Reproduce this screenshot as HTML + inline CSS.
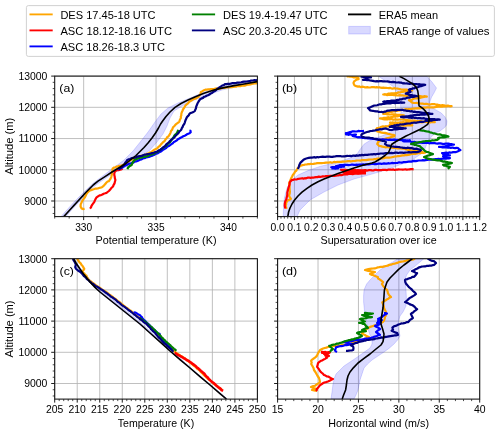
<!DOCTYPE html>
<html><head><meta charset="utf-8"><title>Profiles</title>
<style>html,body{margin:0;padding:0;background:#fff;}body{width:500px;height:434px;overflow:hidden;font-family:"Liberation Sans",sans-serif;}svg{display:block;will-change:transform;}</style>
</head><body>
<svg width="500" height="434" viewBox="0 0 500 434">
<rect width="500" height="434" fill="#fff"/>
<rect x="26.4" y="5.6" width="468" height="50.8" rx="2" ry="2" fill="#fff" stroke="#cccccc" stroke-width="0.9"/>
<path d="M29.5 14.4h23.2" stroke="#FFA500" stroke-width="1.85" fill="none"/>
<path d="M29.5 30.4h23.2" stroke="#FF0000" stroke-width="1.85" fill="none"/>
<path d="M29.5 46.4h23.2" stroke="#0000FF" stroke-width="1.85" fill="none"/>
<path d="M191.9 14.4h23.2" stroke="#008000" stroke-width="1.85" fill="none"/>
<path d="M191.9 30.4h23.2" stroke="#000080" stroke-width="1.85" fill="none"/>
<path d="M348.0 14.4h23.2" stroke="#000000" stroke-width="1.85" fill="none"/>
<rect x="348.7" y="26.4" width="21.6" height="7.6" fill="#0000ff" fill-opacity="0.15" stroke="#0000ff" stroke-opacity="0.15" stroke-width="1"/>
<text x="60.4" y="18.5" font-size="10.70" text-anchor="start" font-family="Liberation Sans, sans-serif" fill="#000" textLength="95.2" lengthAdjust="spacingAndGlyphs" >DES 17.45-18 UTC</text>
<text x="60.4" y="34.5" font-size="10.70" text-anchor="start" font-family="Liberation Sans, sans-serif" fill="#000" textLength="111.6" lengthAdjust="spacingAndGlyphs" >ASC 18.12-18.16 UTC</text>
<text x="60.4" y="50.5" font-size="10.70" text-anchor="start" font-family="Liberation Sans, sans-serif" fill="#000" textLength="104.6" lengthAdjust="spacingAndGlyphs" >ASC 18.26-18.3 UTC</text>
<text x="223.0" y="18.5" font-size="10.70" text-anchor="start" font-family="Liberation Sans, sans-serif" fill="#000" textLength="104.6" lengthAdjust="spacingAndGlyphs" >DES 19.4-19.47 UTC</text>
<text x="223.0" y="34.5" font-size="10.70" text-anchor="start" font-family="Liberation Sans, sans-serif" fill="#000" textLength="104.6" lengthAdjust="spacingAndGlyphs" >ASC 20.3-20.45 UTC</text>
<text x="378.8" y="18.5" font-size="10.70" text-anchor="start" font-family="Liberation Sans, sans-serif" fill="#000" textLength="59.2" lengthAdjust="spacingAndGlyphs" >ERA5 mean</text>
<text x="378.8" y="34.5" font-size="10.70" text-anchor="start" font-family="Liberation Sans, sans-serif" fill="#000" textLength="110.6" lengthAdjust="spacingAndGlyphs" >ERA5 range of values</text>
<clipPath id="ca"><rect x="54.70" y="76.10" width="202.70" height="140.50"/></clipPath>
<clipPath id="cb"><rect x="277.60" y="76.10" width="202.10" height="140.50"/></clipPath>
<clipPath id="cc"><rect x="54.70" y="258.70" width="202.70" height="140.40"/></clipPath>
<clipPath id="cd"><rect x="277.60" y="258.70" width="202.10" height="140.40"/></clipPath>
<path d="M83.66 76.10V216.60M156.05 76.10V216.60M228.44 76.10V216.60M54.70 200.99H257.40M54.70 169.77H257.40M54.70 138.54H257.40M54.70 107.32H257.40M54.70 76.10H257.40" stroke="#b0b0b0" stroke-width="0.8" fill="none"/>
<g clip-path="url(#ca)">
<polygon points="61.0,216.6 70.0,206.5 78.0,198.0 86.0,190.0 93.0,183.4 98.0,179.5 112.0,169.0 124.0,160.0 133.0,151.0 141.0,141.0 148.0,132.0 155.0,122.0 161.0,114.0 168.0,108.0 178.0,103.0 190.0,98.0 204.0,92.0 220.0,87.0 240.0,82.5 257.4,79.5 257.4,83.5 240.0,86.0 222.0,90.0 206.0,95.5 192.0,101.0 182.0,106.0 174.0,111.0 170.0,118.0 167.0,126.0 163.0,134.0 157.0,142.0 150.0,150.0 142.0,156.0 134.0,162.0 124.0,168.0 112.0,174.0 100.0,182.0 94.0,186.6 87.0,193.4 79.0,202.0 71.0,210.6 66.0,216.6" fill="#0000ff" fill-opacity="0.15" stroke="#0000ff" stroke-opacity="0.15" stroke-width="1"/>
<polyline points="84.6,208.7 83.0,209.1 81.6,208.4 80.6,206.6 80.7,204.4 81.6,202.4 82.5,200.5 83.5,199.1 84.9,197.3 85.9,195.2 86.7,193.6 87.9,192.1 89.2,190.9 91.0,190.1 92.3,189.6 93.6,189.2 95.0,188.7 96.4,188.6 97.7,188.5 99.0,188.0 100.5,187.7 102.0,187.2 103.3,186.1 104.6,184.8 105.5,183.7 106.5,182.5 107.6,181.5 109.1,181.1 109.8,179.7 110.7,178.5 111.3,176.8 111.7,175.0 112.0,173.7 111.9,172.3 112.3,171.0 112.6,168.6 114.1,167.5 115.4,167.3 116.6,166.5 118.0,166.3 119.3,165.8 120.7,165.9 122.0,165.2 123.4,164.7 124.6,163.9 126.0,163.4 127.3,162.4 128.6,161.4 130.0,160.5 131.4,159.8 132.8,159.3 134.0,158.4 135.4,158.2 136.7,157.7 138.0,157.1 139.5,156.6 140.9,155.8 142.6,155.7 144.0,155.1 145.6,154.6 147.0,153.8 148.5,153.3 150.0,152.5 151.4,152.0 152.5,151.1 153.7,150.2 154.9,149.4 156.3,148.8 157.5,148.1 158.4,146.9 159.8,146.0 160.8,144.6 161.9,143.4 162.8,142.4 163.9,141.6 164.9,140.6 165.5,139.4 166.5,138.5 167.1,137.3 168.2,136.6 169.0,135.5 169.9,134.1 170.6,132.6 171.0,131.0 172.1,129.8 172.6,128.3 173.4,126.9 174.5,126.0 175.3,124.8 176.4,123.9 177.5,123.1 178.5,122.4 179.4,121.4 179.9,119.7 180.9,118.0 180.8,116.7 181.3,115.4 181.3,114.0 181.7,112.5 182.4,111.0 183.0,109.5 183.9,108.2 184.7,106.9 185.5,105.5 186.7,104.4 188.0,103.4 189.0,102.0 190.3,101.1 191.7,100.4 193.0,99.4 194.3,98.8 195.9,98.5 197.1,97.6 198.5,97.0 199.1,95.6 200.2,94.5 200.6,93.3 200.9,92.0 202.5,91.2 204.0,90.2 205.3,89.7 206.7,89.7 208.0,89.4 209.5,89.4 211.0,89.1 212.5,89.2 214.0,89.1 215.5,88.6 217.0,88.4 218.5,88.7 220.0,88.5 221.5,88.1 223.0,88.0 224.5,87.9 226.0,87.5 227.4,87.4 228.8,87.2 230.3,87.1 231.7,87.1 233.1,86.8 234.6,86.7 236.0,86.7 237.4,86.1 238.9,86.2 240.3,86.1 241.7,85.7 243.1,85.4 244.6,85.6 246.0,85.1 247.4,84.7 248.8,84.6 250.3,84.5 251.7,83.9 253.1,83.7 254.5,83.5 256.0,83.5 257.4,83.0" fill="none" stroke="#FFA500" stroke-width="2.20" stroke-linejoin="round" stroke-linecap="butt"/>
<polyline points="90.0,208.6 91.0,207.4 91.5,205.9 92.3,204.6 93.2,203.4 94.2,202.1 94.8,200.6 95.5,199.1 96.3,197.7 98.0,196.4 99.6,195.3 101.1,195.1 102.4,194.5 103.7,193.7 105.2,193.3 106.5,192.9 107.6,192.0 108.9,191.0 110.0,189.8 111.1,188.3 112.5,187.0 113.3,185.9 113.7,184.6 114.5,183.5 114.9,181.7 115.4,180.0 114.9,178.3 114.7,176.5 114.3,175.0 114.3,173.5 115.1,171.2 117.1,170.1 118.5,170.1 120.0,169.6 121.4,169.4 122.5,168.7" fill="none" stroke="#FF0000" stroke-width="2.20" stroke-linejoin="round" stroke-linecap="butt"/>
<polyline points="118.0,169.6 119.2,168.8 120.5,168.3 121.8,167.8 122.9,167.1 124.0,166.4 125.3,165.6 126.6,165.0 128.0,164.3 129.2,163.7 130.7,163.5 132.0,162.9 133.4,162.6 134.6,161.7 136.0,161.5 137.4,160.9 138.8,160.4 140.0,159.7 141.3,159.4 142.5,158.8 143.7,158.1 145.0,158.1 146.2,157.4 147.5,157.1 148.8,156.9 150.0,156.4 151.2,155.9 152.6,155.6 153.8,155.0 155.0,154.4 156.4,153.6 158.0,153.1 159.3,152.2 160.8,151.5 162.0,150.6 163.2,149.6 164.7,148.9 166.1,148.1 167.2,146.8 168.8,146.1 170.1,145.1 171.4,144.1 172.8,143.2 173.9,141.9 175.4,141.2 176.8,140.4 177.9,139.3 179.3,138.5 180.6,137.7 182.0,137.0 183.3,136.3 184.7,135.7 186.0,135.1 187.1,134.2 188.3,133.7 189.6,133.3 190.7,132.3 190.5,130.8 189.4,130.5" fill="none" stroke="#0000FF" stroke-width="2.20" stroke-linejoin="round" stroke-linecap="butt"/>
<polyline points="127.6,169.2 127.9,167.6 129.4,166.3 131.6,165.0 132.2,163.5 132.9,162.0 134.6,160.0 136.3,159.3 138.0,158.4 139.3,158.0 140.6,157.6 142.0,157.4 143.6,156.8 145.3,156.6 147.0,156.3 148.2,155.7 149.4,155.1 150.7,154.7 152.0,154.5 153.2,154.0 154.5,153.5 155.6,152.6 156.9,152.3 158.0,151.5 159.2,150.6 160.5,149.7 161.7,148.9 163.0,148.0 164.3,147.0 165.7,146.1 167.0,145.0 167.9,143.9 169.0,143.0 170.1,142.1 170.9,140.9 171.7,139.7 172.5,138.5 173.4,137.4 174.1,136.1 174.9,134.8 176.2,133.8 177.1,132.6 177.7,131.2 178.6,130.0" fill="none" stroke="#008000" stroke-width="2.20" stroke-linejoin="round" stroke-linecap="butt"/>
<polyline points="119.0,169.4 120.9,167.7 122.1,166.8 123.0,165.6 124.0,164.7 124.8,163.6 125.5,162.4 126.4,161.4 127.0,160.2 128.4,159.4 130.0,159.0 131.6,158.2 133.3,157.9 135.0,157.7 136.6,156.9 138.3,156.4 140.0,156.1 141.6,156.0 143.0,155.2 144.4,154.7 146.0,154.7 147.4,154.0 149.1,154.0 150.5,153.5 152.0,153.1 153.7,152.8 155.3,152.1 157.0,151.7 158.4,150.6 160.0,150.1 161.0,149.2 162.1,148.4 162.9,147.4 164.1,146.8 165.2,146.0 165.9,144.9 166.9,143.9 168.0,143.0 169.1,142.1 169.9,141.0 170.9,140.2 172.0,139.4 173.0,138.5 174.1,137.6 175.0,136.5 175.9,135.4 177.0,134.5 178.0,133.5 178.8,132.5 179.5,131.3 180.5,130.5 181.4,129.5 181.8,128.1 182.6,127.0 183.2,125.4 184.2,124.0 184.9,122.3 185.4,120.5 186.2,118.8 187.0,117.0 187.9,116.1 188.8,115.2 189.4,113.9 190.6,113.0 192.0,112.6 193.5,112.0 194.8,111.0 195.3,109.7 195.9,108.5 196.2,106.7 196.9,105.0 197.6,103.2 198.6,101.5 199.5,100.2 200.4,99.0 201.7,98.4 203.0,97.9 204.0,96.9 205.4,96.5 206.6,95.8 208.0,95.3 209.4,94.5 210.6,93.6 212.0,92.9 213.3,91.8 215.0,91.0 216.0,90.1 216.9,89.2 218.0,88.5 219.4,87.4 221.0,86.5 222.2,85.5 223.8,85.2 225.0,84.2 226.4,84.1 227.8,83.8 229.2,83.8 230.6,83.6 232.0,83.2 233.3,83.1 234.7,83.1 236.0,83.0 237.3,82.6 238.7,82.7 240.0,82.5 241.3,82.2 242.6,81.8 244.0,81.6 245.4,81.7 246.7,81.5 248.0,81.3 249.4,81.2 250.7,80.7 252.0,80.5 253.4,80.4 254.7,80.2 256.1,80.3 257.4,80.1" fill="none" stroke="#000080" stroke-width="2.20" stroke-linejoin="round" stroke-linecap="butt"/>
<polyline points="63.8,216.6 70.0,209.8 74.0,205.4 78.0,201.0 82.0,196.6 86.0,192.2 89.6,188.6 93.2,185.0 98.0,181.2 105.0,176.6 112.0,172.0 119.0,167.8 126.0,163.5 131.0,159.5 136.0,155.5 140.0,151.5 144.0,147.5 148.0,143.0 152.0,138.0 155.5,133.0 158.5,128.0 160.6,124.0 163.0,120.5 166.0,116.5 170.0,112.0 175.0,107.4 181.0,103.5 188.0,100.0 196.0,96.4 204.0,93.2 214.0,90.0 224.0,87.6 234.0,85.6 244.0,84.0 257.4,81.6" fill="none" stroke="#000000" stroke-width="1.60" stroke-linejoin="round" stroke-linecap="butt"/>
</g>
<path d="M83.66 216.60v3.5M156.05 216.60v3.5M228.44 216.60v3.5M54.70 200.99h-3.5M54.70 169.77h-3.5M54.70 138.54h-3.5M54.70 107.32h-3.5M54.70 76.10h-3.5" stroke="#111" stroke-width="0.95" fill="none"/>
<path d="M54.70 216.60v2M69.18 216.60v2M98.14 216.60v2M112.61 216.60v2M127.09 216.60v2M141.57 216.60v2M170.53 216.60v2M185.01 216.60v2M199.49 216.60v2M213.96 216.60v2M242.92 216.60v2M257.40 216.60v2M54.70 213.48h-2M54.70 207.23h-2M54.70 194.74h-2M54.70 188.50h-2M54.70 182.26h-2M54.70 176.01h-2M54.70 163.52h-2M54.70 157.28h-2M54.70 151.03h-2M54.70 144.79h-2M54.70 132.30h-2M54.70 126.06h-2M54.70 119.81h-2M54.70 113.57h-2M54.70 101.08h-2M54.70 94.83h-2M54.70 88.59h-2M54.70 82.34h-2" stroke="#111" stroke-width="0.75" fill="none"/>
<rect x="54.70" y="76.10" width="202.70" height="140.50" fill="none" stroke="#111" stroke-width="1.05"/>
<text x="83.7" y="230.8" font-size="10.60" text-anchor="middle" font-family="Liberation Sans, sans-serif" fill="#000" textLength="17.0" lengthAdjust="spacingAndGlyphs" >330</text>
<text x="156.1" y="230.8" font-size="10.60" text-anchor="middle" font-family="Liberation Sans, sans-serif" fill="#000" textLength="17.0" lengthAdjust="spacingAndGlyphs" >335</text>
<text x="228.4" y="230.8" font-size="10.60" text-anchor="middle" font-family="Liberation Sans, sans-serif" fill="#000" textLength="17.0" lengthAdjust="spacingAndGlyphs" >340</text>
<text x="47.4" y="204.8" font-size="10.60" text-anchor="end" font-family="Liberation Sans, sans-serif" fill="#000" textLength="23.2" lengthAdjust="spacingAndGlyphs" >9000</text>
<text x="47.4" y="173.6" font-size="10.60" text-anchor="end" font-family="Liberation Sans, sans-serif" fill="#000" textLength="29.0" lengthAdjust="spacingAndGlyphs" >10000</text>
<text x="47.4" y="142.3" font-size="10.60" text-anchor="end" font-family="Liberation Sans, sans-serif" fill="#000" textLength="29.0" lengthAdjust="spacingAndGlyphs" >11000</text>
<text x="47.4" y="111.1" font-size="10.60" text-anchor="end" font-family="Liberation Sans, sans-serif" fill="#000" textLength="29.0" lengthAdjust="spacingAndGlyphs" >12000</text>
<text x="47.4" y="79.9" font-size="10.60" text-anchor="end" font-family="Liberation Sans, sans-serif" fill="#000" textLength="29.0" lengthAdjust="spacingAndGlyphs" >13000</text>
<text transform="translate(12.6,146.3) rotate(-90)" font-size="10.6" text-anchor="middle" font-family="Liberation Sans, sans-serif" textLength="57" lengthAdjust="spacingAndGlyphs">Altitude (m)</text>
<text x="156.0" y="244.0" font-size="10.60" text-anchor="middle" font-family="Liberation Sans, sans-serif" fill="#000" textLength="121.0" lengthAdjust="spacingAndGlyphs" >Potential temperature (K)</text>
<text x="66.8" y="92.2" font-size="11.50" text-anchor="middle" font-family="Liberation Sans, sans-serif" fill="#000" textLength="15.0" lengthAdjust="spacingAndGlyphs" >(a)</text>
<path d="M277.60 76.10V216.60M294.44 76.10V216.60M311.28 76.10V216.60M328.12 76.10V216.60M344.97 76.10V216.60M361.81 76.10V216.60M378.65 76.10V216.60M395.49 76.10V216.60M412.33 76.10V216.60M429.18 76.10V216.60M446.02 76.10V216.60M462.86 76.10V216.60M479.70 76.10V216.60M277.60 200.99H479.70M277.60 169.77H479.70M277.60 138.54H479.70M277.60 107.32H479.70M277.60 76.10H479.70" stroke="#b0b0b0" stroke-width="0.8" fill="none"/>
<g clip-path="url(#cb)">
<polygon points="283.2,216.6 283.6,206.0 284.4,198.0 287.0,188.0 291.0,181.0 298.0,175.0 308.0,170.6 320.0,166.4 334.0,163.0 346.0,159.4 353.0,156.6 357.0,154.0 360.0,149.5 364.0,144.2 369.5,140.7 376.0,138.0 382.2,135.8 388.0,133.0 392.0,131.0 397.0,127.0 400.0,121.0 401.0,112.0 400.5,104.0 399.0,96.0 395.0,88.0 387.0,82.0 378.4,76.2 426.8,76.2 432.0,82.0 436.5,88.0 434.0,93.0 431.6,97.0 429.8,102.0 430.0,106.6 436.0,110.0 441.3,113.0 445.0,117.0 447.0,121.0 446.5,125.0 444.5,127.6 440.0,131.0 436.5,132.5 432.0,136.0 428.0,141.0 426.0,146.0 424.4,150.0 421.0,154.0 412.0,160.0 402.0,164.0 386.0,170.0 370.0,174.6 354.0,179.0 338.0,185.0 324.0,192.0 310.0,200.0 300.0,210.0 297.0,216.6" fill="#0000ff" fill-opacity="0.15" stroke="#0000ff" stroke-opacity="0.15" stroke-width="1"/>
<polyline points="286.4,208.8 286.2,207.3 285.5,206.0 286.1,204.5 286.1,203.0 286.8,201.8 287.5,200.6 289.6,199.7 290.9,198.9 289.9,197.3 289.1,196.0 289.4,194.5 289.8,193.0 289.9,191.4 289.7,189.8 289.6,187.9 289.6,186.0 289.4,184.7 289.1,183.4 289.8,181.7 290.5,180.0 291.2,178.2 292.1,176.5 292.7,175.2 293.5,174.1 294.4,173.0 295.0,171.7 296.1,170.9 296.8,169.7 297.7,168.0 299.1,166.8 300.7,165.8 302.5,165.1 303.9,165.0 305.2,164.5 306.6,164.5 308.0,164.2 309.4,164.2 310.7,163.8 312.0,164.0 313.4,163.9 314.7,163.6 316.0,163.4 317.4,163.1 318.9,163.2 320.3,163.0 321.7,163.1 323.2,163.0 324.6,162.8 326.0,162.6 327.4,162.7 328.8,162.6 330.2,162.2 331.6,162.6 333.0,162.3 334.4,161.9 335.8,162.3 337.2,161.8 338.6,161.8 340.0,161.9 341.3,161.8 342.7,161.7 344.0,161.7 345.3,161.5 346.7,161.3 348.0,161.1 349.3,161.0 350.7,161.3 352.0,161.2 353.4,161.0 354.8,161.0 356.2,160.7 357.6,160.5 359.0,160.5 360.4,160.7 361.8,160.1 363.2,160.2 364.6,160.0 366.0,160.1 367.4,159.8 368.8,159.6 370.2,159.5 371.6,159.5 373.0,159.5 374.4,159.1 375.8,159.2 377.2,158.6 378.6,158.6 380.0,158.5 381.3,158.2 382.7,158.4 384.0,158.2 385.3,157.7 386.6,157.6 388.0,157.6 389.4,157.6 390.7,157.5 392.0,157.2 393.3,157.0 394.6,156.5 396.0,156.5 397.3,156.2 398.7,156.2 400.0,156.0 401.3,155.6 402.6,155.4 404.0,155.5 405.3,154.9 406.7,155.1 408.0,154.9 409.4,154.7 410.7,154.2 412.0,154.0 413.3,153.9 414.7,153.7 416.0,153.8 417.3,153.4 418.7,153.0 420.0,153.1 421.7,152.9 423.3,152.8 425.0,152.7 423.5,152.6 422.2,151.9 420.8,151.7 419.4,151.5 418.0,151.2 416.5,151.0 415.0,151.0 413.5,150.6 412.0,150.7 410.5,150.2 409.0,150.0 407.6,149.8 406.2,149.4 404.9,148.9 403.4,148.6 402.0,148.7 400.6,148.3 399.2,148.2 397.7,148.4 396.3,148.1 394.8,148.0 393.4,148.0 392.0,147.6 390.7,147.2 389.3,147.5 388.0,147.1 386.7,147.1 385.3,147.3 384.0,146.9 382.3,146.6 380.7,146.1 379.0,145.9 378.2,144.9 377.2,144.0 378.1,142.0 380.1,140.5 381.6,140.0 383.0,139.2 384.5,139.1 386.0,138.6 387.5,138.1 389.0,137.9 390.2,137.4 391.4,137.0 392.7,136.6 394.0,136.4 394.6,135.3 393.0,134.9 391.5,134.6 390.0,134.2 388.3,133.9 386.7,133.4 385.0,132.9 383.3,132.8 381.6,132.7 380.0,132.1 378.5,131.6 377.0,131.3 376.0,129.6 377.0,128.0 378.5,127.9 380.0,127.5 381.4,126.8 383.0,126.4 384.3,126.6 385.7,126.2 387.0,126.3 388.3,126.1 389.7,126.0 391.0,126.0 392.3,126.1 393.7,125.9 395.0,125.9 396.3,125.7 397.7,125.7 399.0,125.8 400.3,125.5 401.6,125.4 403.0,125.6 404.3,125.5 405.7,125.6 407.0,125.2 408.3,125.3 409.6,125.3 411.0,125.0 412.3,125.3 410.9,125.3 409.6,125.4 408.2,125.1 406.8,125.2 405.5,124.9 404.1,125.0 402.7,125.1 401.4,125.1 400.0,124.7 398.5,124.9 397.1,124.5 395.6,124.6 394.1,124.3 392.6,124.6 391.2,124.6 389.7,124.5 391.2,124.5 392.6,124.4 394.1,124.1 395.6,123.9 397.1,124.2 398.5,124.3 400.0,124.0 401.4,123.7 402.7,123.6 404.1,123.6 405.5,123.6 406.8,123.5 408.2,123.5 409.6,123.8 410.9,123.9 412.3,123.5 410.9,123.3 409.5,123.5 408.2,123.2 406.8,123.1 405.4,123.1 404.0,123.5 402.6,123.3 401.2,123.1 399.8,122.8 398.4,123.2 397.0,123.1 395.6,122.7 394.2,123.0 392.8,122.8 391.4,122.8 390.0,122.5 391.3,122.8 392.7,122.4 394.0,122.7 395.3,122.6 396.7,122.7 398.0,122.5 399.3,122.7 400.7,122.3 402.0,122.3 403.3,122.2 404.7,122.5 406.0,122.3 407.3,122.1 408.7,122.0 410.0,122.3 411.3,122.3 412.6,122.3 413.9,122.1 415.2,122.2 416.5,121.9 417.8,122.3 419.1,121.8 420.4,122.1 421.7,122.3 423.1,122.2 424.4,121.8 425.7,121.9 427.0,122.3 428.3,122.1 429.6,122.3 430.9,122.3 432.2,122.0 433.5,122.2 434.8,122.1 433.4,122.0 432.0,121.9 430.5,122.0 429.1,121.7 427.7,121.3 426.3,121.7 424.8,121.3 423.4,121.5 422.0,121.3 420.7,121.0 419.3,121.2 418.0,121.2 416.7,121.1 415.3,120.7 414.0,120.6 412.6,120.9 411.3,120.7 410.0,120.3 408.7,120.4 407.4,120.1 406.0,120.1 404.7,119.7 403.4,119.7 402.1,119.5 400.7,119.5 399.4,119.5 398.1,119.6 396.7,119.6 395.4,119.2 394.0,119.6 392.7,119.6 391.3,119.0 390.0,119.4 388.6,119.0 387.3,119.5 385.9,119.3 384.6,119.4 383.2,119.1 381.6,118.7 380.0,118.4 381.4,118.4 382.7,118.3 384.0,117.8 385.3,117.8 386.7,117.6 388.0,117.2 389.4,117.5 390.7,117.2 392.0,117.1 393.3,116.7 394.7,116.7 396.1,116.5 397.4,116.5 398.7,115.9 400.1,115.9 401.5,115.8 402.8,115.4 404.2,115.5 402.8,115.2 401.4,115.2 400.1,114.9 398.7,114.8 397.3,114.9 395.9,114.6 394.5,114.3 393.1,114.4 391.7,114.3 390.3,114.5 388.8,114.4 387.4,114.4 386.0,113.8 384.6,113.9 383.2,113.9 385.1,112.8 386.3,112.5 387.7,112.5 389.0,112.1 390.3,111.8 391.7,111.9 393.0,111.5 394.4,111.4 395.7,110.9 397.0,110.9 398.3,110.4 399.7,110.5 401.0,110.1 402.3,109.7 403.6,110.0 404.9,109.4 406.2,109.2 407.5,109.4 408.8,109.0 410.1,109.0 411.4,109.0 412.7,108.5 414.0,108.7 415.3,108.4 416.6,108.3 417.9,108.2 419.2,108.3 420.6,108.2 421.8,107.8 423.1,107.6 424.5,107.6 425.8,107.6 427.1,107.3 428.4,107.3 429.8,107.5 431.1,107.4 432.5,107.4 433.9,107.4 435.2,107.2 436.6,106.8 437.9,106.6 439.3,106.6 440.7,106.6 442.0,106.6 443.4,106.5 444.8,106.3 446.2,106.5 447.5,106.1 448.9,106.1 450.2,106.3 451.6,106.1 450.3,106.0 449.0,105.9 447.7,105.5 446.4,105.8 445.1,105.6 443.8,105.3 442.5,105.2 441.2,105.3 439.9,105.2 438.6,105.0 437.3,104.6 436.0,104.6 434.7,104.2 433.3,104.2 432.0,104.0 430.6,104.5 429.3,104.3 428.0,104.3 426.7,103.9 425.3,103.9 424.0,104.0 422.7,103.6 421.3,103.7 420.0,103.5 418.4,103.4 416.9,102.9 415.4,103.0 413.8,102.9 412.3,102.7 411.2,101.8 410.1,100.9 409.0,100.2 410.5,100.1 411.8,99.7 413.2,99.0 414.5,98.5 416.0,98.5 417.4,98.3 418.7,98.0 420.1,97.9 421.4,97.5 422.7,97.1 424.1,96.9 425.4,96.5 426.8,96.6 425.5,96.3 424.1,96.2 422.8,96.5 421.4,96.3 420.1,96.1 418.7,96.1 417.4,96.2 416.0,96.2 414.7,96.1 413.3,96.3 412.0,96.1 410.6,95.8 409.3,95.6 407.9,95.7 406.5,95.8 405.1,95.7 403.7,95.6 402.4,95.3 401.0,95.4 399.6,95.1 398.2,95.5 396.9,95.4 395.5,95.2 394.1,95.2 392.8,94.9 391.4,94.9 390.0,94.9 388.6,94.8 387.3,95.1 385.9,94.7 384.6,94.6 383.2,94.5 384.5,94.2 385.9,94.3 387.3,94.2 388.6,93.5 390.0,93.7 391.5,93.4 393.0,93.3 394.5,93.4 396.0,93.1 397.3,92.9 398.6,92.4 400.0,92.5 401.3,91.9 402.7,91.8 404.0,91.7 405.4,91.3 406.7,91.1 408.2,91.3 409.6,91.1 410.9,90.6 412.3,90.5 410.8,90.4 409.4,90.4 407.9,90.1 406.5,89.5 405.0,89.7 403.6,89.6 402.2,89.5 400.8,89.4 399.4,89.0 398.1,88.7 396.7,88.5 395.4,88.5 394.0,88.2 392.7,88.6 391.3,88.3 390.0,87.9 388.7,88.2 387.3,88.0 386.0,87.8 384.7,87.9 383.3,87.6 382.0,87.9 380.7,87.7 379.3,87.2 378.0,87.5 376.7,87.1 375.3,87.5 374.0,87.0 372.7,87.2 371.3,87.2 370.0,87.5 368.7,87.5 367.3,87.1 366.0,87.3 364.7,87.3 363.3,86.8 362.0,86.7 360.6,87.1 359.4,86.4 358.0,86.6 356.3,86.1 354.6,85.5 353.9,84.2 353.5,82.9 354.1,81.4 355.9,80.1 357.2,79.5 358.6,79.1 358.4,77.8 356.7,77.3 355.0,77.3 353.3,77.3 351.7,76.7 350.0,76.7 348.3,76.3 346.6,76.5" fill="none" stroke="#FFA500" stroke-width="2.20" stroke-linejoin="round" stroke-linecap="butt"/>
<polyline points="285.4,208.5 284.9,206.9 284.7,205.3 284.8,203.6 285.1,201.9 285.6,200.7 286.3,199.5 286.6,197.8 287.1,196.1 287.3,194.4 287.3,192.6 287.7,190.9 288.1,189.2 288.6,187.4 289.2,185.7 289.7,184.0 289.7,182.3 290.7,181.2 291.7,180.1 293.0,179.9 294.4,179.3 295.7,179.5 297.0,179.3 298.3,178.8 299.6,178.7 300.9,178.5 302.2,178.2 303.5,178.6 304.8,178.2 306.2,178.3 307.6,177.7 309.0,177.5 310.4,177.9 311.8,177.7 313.2,177.7 314.6,177.3 316.0,177.1 317.4,177.1 318.8,176.6 320.2,176.8 321.6,176.6 323.0,176.3 324.4,176.5 325.8,176.2 327.2,176.2 328.6,176.0 330.0,175.9 331.4,175.8 332.9,175.8 334.3,175.9 335.7,175.7 337.2,175.5 338.6,175.3 340.0,174.9 341.5,175.1 342.8,174.6 344.3,174.3 345.7,174.4 347.2,174.4 348.6,174.0 350.0,174.0 351.3,173.8 352.7,174.1 354.0,173.6 355.3,173.5 356.7,173.5 358.0,173.6 359.4,173.5 360.7,173.1 362.0,173.0 360.7,172.9 359.3,173.1 358.0,172.8 356.7,172.5 355.3,172.5 354.0,172.9 352.7,172.3 351.3,172.5 350.0,172.3 348.5,172.2 347.0,172.0 345.5,171.5 344.0,171.1 345.4,171.1 346.9,171.2 348.3,171.1 349.7,170.8 351.1,170.7 352.6,170.7 354.0,170.6 355.3,170.5 356.7,170.6 358.0,170.8 359.3,170.6 360.7,170.3 362.0,170.3 363.3,170.4 364.7,170.5 366.0,170.3 364.7,170.6 363.3,170.5 362.0,170.5 360.7,170.6 359.3,170.3 358.0,170.0 356.7,170.3 355.3,170.1 354.0,170.1 352.7,170.0 351.3,170.0 350.0,170.2 348.5,170.1 347.0,170.4 345.5,169.9 344.0,170.1 342.5,170.0 341.0,169.9 342.4,169.9 343.7,169.9 345.1,170.4 346.5,170.3 347.8,170.0 349.2,170.0 350.5,170.3 351.9,170.1 353.3,170.7 354.6,170.4 356.0,170.5 357.3,170.5 358.7,170.5 360.0,170.5 361.3,170.5 362.7,170.5 364.0,170.4 365.3,170.1 366.7,170.6 368.0,170.4 369.3,170.0 370.7,170.2 372.0,170.4 373.3,170.5 374.7,169.9 376.0,169.8 377.3,170.1 378.7,170.0 380.0,170.1 381.3,170.2 382.7,169.8 384.0,169.9 385.3,169.9 386.7,170.1 388.0,169.7 389.3,169.7 390.7,169.5 392.0,169.8 393.3,169.4 394.7,170.0 396.0,169.7 397.3,169.7 398.7,169.4 400.0,169.5 401.4,169.5 402.7,169.7 404.1,169.5 405.4,169.3 406.8,169.7 408.2,169.5 409.5,169.3 410.9,169.1 412.2,169.1 413.6,169.3" fill="none" stroke="#FF0000" stroke-width="2.20" stroke-linejoin="round" stroke-linecap="butt"/>
<polygon points="341,169.6 350,170.2 366,170 366,174.4 344,174.6" fill="#ff0000"/>
<polyline points="331.4,168.6 332.7,168.3 334.0,168.5 335.4,168.6 336.7,168.4 338.0,168.5 336.7,167.9 335.3,167.7 333.9,167.5 332.5,167.6 331.2,167.3 332.5,167.1 333.8,167.0 335.1,166.9 336.4,167.3 337.7,166.9 339.0,167.1 340.7,167.1 342.3,166.5 344.0,166.7 342.7,166.6 341.3,166.6 340.0,166.5 338.6,166.5 337.3,166.1 336.0,166.0 337.4,165.9 338.7,165.7 340.0,165.1 341.4,165.1 342.9,165.1 344.3,164.9 345.7,164.9 347.1,164.9 348.6,165.1 350.0,165.0 351.3,164.7 352.7,164.7 354.0,164.8 355.3,164.8 356.7,164.6 358.0,164.8 359.3,164.5 360.7,164.7 362.0,164.6 363.3,164.3 364.7,164.6 366.0,164.4 367.4,164.3 368.8,164.3 370.2,164.2 371.6,164.0 373.0,163.7 374.4,164.1 375.8,164.1 377.2,163.8 378.6,163.7 380.0,163.5 381.4,163.8 382.7,163.6 384.1,163.3 385.5,163.6 386.8,163.6 388.2,163.2 389.6,163.5 390.9,163.2 392.3,162.9 393.6,163.2 395.0,163.0 396.4,163.0 397.7,162.8 399.1,162.4 400.5,162.5 401.8,162.6 403.2,162.2 404.5,162.1 405.9,162.2 407.3,161.8 408.6,161.7 410.0,161.6 411.5,161.6 412.8,161.1 414.3,160.8 415.7,161.1 417.1,160.8 418.6,160.5 420.0,160.5 421.4,160.5 422.9,160.2 424.3,160.3 425.7,160.1 427.2,160.0 428.6,159.6 430.0,159.5 431.4,159.6 432.9,159.6 434.3,159.3 435.7,159.2 437.1,159.2 438.6,158.9 440.0,159.1 441.4,158.9 442.9,158.7 444.3,158.4 445.7,158.6 447.1,158.3 448.6,158.4 450.0,158.1 448.7,158.0 447.3,157.8 446.0,157.4 444.5,156.9 443.0,156.5 444.4,155.9 445.8,156.0 447.2,155.6 448.6,155.6 450.0,155.3 448.6,155.4 447.2,155.0 445.8,154.5 444.4,154.4 443.0,154.4 444.7,154.1 446.3,153.6 448.0,153.5 446.5,153.6 445.0,153.1 443.5,153.5 442.0,153.1 443.4,153.1 444.9,152.9 446.3,152.7 447.7,153.0 449.1,152.4 450.6,152.6 452.0,152.4 453.3,152.1 454.7,152.0 456.0,152.1 457.5,151.5 459.0,150.8 460.5,150.1 459.0,149.2 458.0,148.0 456.6,147.8 455.1,148.1 453.7,147.9 452.3,147.5 450.9,147.8 449.4,147.5 448.0,147.7 446.5,147.4 445.0,147.5 443.5,147.3 442.0,147.3 440.5,146.9 439.0,146.9 440.4,146.8 441.8,146.8 443.2,146.5 444.6,146.5 446.0,146.1 447.3,146.0 448.7,145.7 450.0,145.3 451.3,144.9 452.6,144.7 454.0,144.6 452.6,144.6 451.4,144.0 450.0,144.0 448.6,143.7 447.2,143.7 445.8,143.7 444.4,143.8 443.0,144.0 441.6,143.6 440.2,143.4 438.8,143.3 437.4,143.6 436.0,143.5 434.7,143.0 433.3,143.1 432.0,143.2 430.7,143.0 429.3,143.3 428.0,143.0 426.7,142.8 425.3,142.8 424.0,143.0 422.7,143.0 421.3,142.6 420.0,142.5 418.5,142.7 417.1,142.6 415.7,142.4 414.3,141.9 412.9,142.0 411.4,141.8 410.0,141.5 408.6,141.4 407.2,141.5 405.8,141.1 404.4,141.4 403.0,141.1 404.4,141.0 405.8,140.6 407.2,140.4 408.6,140.5 410.0,140.3 408.0,140.5 406.6,140.7 405.3,140.2 404.0,140.4 402.7,140.0 401.3,140.1 400.0,139.9 398.6,140.0 397.1,140.1 395.7,139.9 394.3,139.6 392.9,139.8 391.4,139.8 390.0,139.6 388.5,139.8 387.1,139.7 385.7,139.5 384.2,139.5 382.8,139.4 381.3,139.6 379.8,139.7 378.4,139.5 377.1,139.4 375.8,139.3 374.5,139.0 373.2,139.0 371.9,138.6 370.6,138.6 369.3,138.4 368.0,138.3 366.5,138.2 365.0,138.1 363.5,138.0 362.0,137.8 360.5,137.3 359.0,137.2 357.5,137.3 356.0,136.7 354.3,136.4 352.6,136.0 354.3,135.4 356.0,134.7 354.6,134.5 353.1,134.9 351.7,134.8 350.3,134.3 348.9,134.8 347.4,134.5 346.0,134.5 345.9,133.2 347.4,133.1 348.7,132.5 350.0,132.1 351.3,131.9 352.6,131.3 354.0,131.4 355.4,131.5 356.9,131.5 358.3,130.9 359.7,131.2 361.1,131.0 362.6,131.0 364.0,130.9" fill="none" stroke="#0000FF" stroke-width="2.20" stroke-linejoin="round" stroke-linecap="butt"/>
<polyline points="448.0,169.0 448.9,167.9 449.9,166.9 448.5,166.5 447.0,166.3 445.7,165.5 444.3,165.7 443.0,164.9 444.6,164.5 446.3,164.1 448.0,164.1 449.3,163.7 450.7,163.5 452.0,163.0 450.5,162.7 449.0,162.7 447.5,162.1 446.0,162.0 444.7,161.4 443.3,161.6 442.0,161.1 440.5,160.7 439.0,160.3 437.5,160.4 436.0,160.1 434.5,159.9 433.0,159.7 431.5,159.3 430.0,159.0 428.6,158.9 427.3,158.4 426.0,157.9 424.0,157.1 425.5,156.5 427.0,155.9 428.3,155.5 429.7,155.2 431.0,154.7 433.0,154.1 431.5,153.5 430.0,153.1 428.0,152.0 426.4,151.8 425.0,151.1 424.0,150.0 423.0,149.0 421.0,147.5 419.9,146.1 418.6,145.9 417.3,145.5 416.0,145.0 414.3,144.8 412.7,144.1 411.0,144.0 412.5,143.4 414.0,143.0 415.5,142.5 417.0,142.6 418.5,142.4 420.0,142.0 421.4,142.0 422.6,141.5 424.0,141.3 425.3,141.2 426.6,141.0 428.0,141.0 429.5,140.9 431.0,140.8 432.5,140.3 434.0,140.5 435.5,140.2 437.0,140.0 439.0,138.6 438.0,138.0 439.5,137.6 441.0,137.5 442.5,137.5 444.0,137.3 445.5,137.2 447.0,136.6 448.5,136.6 447.0,136.0 445.5,135.6 444.0,135.3 442.5,135.4 441.0,134.7 439.5,134.4 438.0,134.5 436.4,134.0 434.9,133.4 433.2,133.4 431.7,132.6 430.0,132.3 428.4,131.6 426.9,131.5 425.4,131.2 424.0,130.7 422.5,130.6 420.9,130.5 419.4,130.2" fill="none" stroke="#008000" stroke-width="2.20" stroke-linejoin="round" stroke-linecap="butt"/>
<polyline points="298.0,169.0 298.7,167.0 299.3,165.0 300.3,162.9 302.1,161.1 304.0,159.4 305.5,158.7 307.1,158.3 308.7,157.9 310.3,157.6 312.0,157.7 313.3,157.3 314.7,157.2 316.0,157.6 317.3,157.0 318.7,157.3 320.0,157.0 321.4,156.8 322.7,156.7 324.1,156.9 325.5,156.8 326.8,156.7 328.2,156.7 329.5,156.5 330.9,156.8 332.3,156.8 333.6,156.6 335.0,156.5 336.4,156.1 337.7,156.2 339.1,156.1 340.4,156.0 341.8,156.5 343.2,156.4 344.6,156.4 345.9,156.1 347.3,155.8 348.6,156.0 350.0,155.9 351.4,156.1 352.7,155.7 354.0,155.6 355.4,155.9 356.7,155.4 358.0,155.7 359.3,155.2 360.7,155.4 362.0,154.9 363.4,155.3 364.7,154.9 366.0,154.8 367.3,154.9 368.7,154.7 370.0,154.5 371.3,154.3 372.7,154.4 374.0,154.0 375.4,154.4 376.7,154.0 378.0,153.8 379.3,153.8 380.6,153.5 382.0,153.5 383.3,153.6 384.7,153.4 386.0,153.2 387.3,153.1 388.7,153.1 390.0,153.1 391.4,152.9 392.7,153.1 394.1,152.9 395.4,152.6 396.8,152.6 398.2,153.0 399.5,152.7 400.9,152.6 402.3,152.7 403.6,152.8 405.0,152.6 406.3,152.5 407.6,152.4 408.9,152.1 410.2,152.4 411.5,152.3 412.8,152.2 414.1,152.2 415.4,152.1 416.7,152.2 418.0,151.9 419.6,151.5 420.9,150.3 419.6,149.5 418.0,149.1 416.7,148.7 415.3,148.9 414.0,148.9 412.7,148.4 411.4,148.1 410.0,148.1 408.7,147.9 407.4,147.7 406.0,148.2 404.7,147.9 403.3,147.9 402.0,147.5 400.7,147.5 399.3,147.2 398.0,147.0 396.7,146.8 395.3,146.8 394.0,146.7 392.5,146.5 391.0,146.4 389.5,145.7 388.0,145.7 386.4,145.0 385.0,143.9 385.9,142.0 384.0,141.0 382.6,140.9 381.3,140.5 380.0,139.9 378.6,139.9 377.3,139.3 376.0,138.9 374.6,138.9 373.4,138.4 372.0,138.2 370.7,138.0 369.4,137.7 368.0,137.5 366.5,137.7 365.0,137.5 363.5,137.1 362.0,136.9 361.3,135.4 361.5,134.5 362.6,133.6 364.1,133.1 365.5,132.5 367.0,132.0 368.7,131.7 370.3,131.0 372.0,130.9 373.6,130.7 375.2,130.5 376.8,129.8 378.4,129.6 379.9,129.2 381.5,129.4 383.0,128.9 384.5,128.6 386.0,128.4 387.2,129.0 388.5,129.4 389.7,130.0 391.1,130.0 392.5,129.8 393.8,129.4 395.2,129.1 396.6,129.4 398.0,129.1 399.3,129.0 400.6,128.7 401.9,129.0 403.2,128.6 404.5,128.3 405.8,128.3 404.4,128.3 403.0,128.1 401.6,128.1 400.2,127.6 398.8,127.6 397.4,127.6 396.0,127.4 394.4,127.2 392.9,127.0 391.3,127.0 389.7,126.8 392.0,126.0 393.4,125.9 394.6,125.3 396.0,125.3 397.3,124.9 398.7,125.1 400.0,124.4 401.3,124.5 402.7,124.3 404.0,124.3 405.3,123.8 406.6,123.6 408.0,123.5 409.4,123.5 410.7,123.3 412.1,122.8 413.4,122.7 414.8,122.5 416.2,122.8 417.6,122.3 418.9,122.2 420.3,121.9 421.7,121.9 423.1,121.8 424.5,121.5 425.8,120.9 427.2,121.0 428.6,120.8 430.0,120.5 431.4,120.6 432.8,120.2 434.1,120.0 435.6,120.0 436.9,119.9 438.3,119.7 439.7,119.6 438.4,119.4 437.1,119.4 435.7,119.5 434.4,119.1 433.1,119.1 431.8,119.0 430.5,119.0 429.2,119.1 427.9,119.0 426.6,118.8 425.2,118.8 424.0,118.2 422.6,118.3 421.3,118.4 420.0,118.1 418.6,118.0 417.3,118.3 415.9,117.8 414.6,118.0 413.2,117.5 411.8,117.9 410.5,117.7 409.1,117.7 407.8,117.2 406.4,117.2 405.1,117.2 403.7,117.4 402.4,117.1 401.0,116.9 402.6,116.5 404.4,116.7 406.0,116.3 407.6,116.3 409.2,116.0 410.7,115.7 412.3,115.6 413.7,115.2 415.1,115.1 416.4,114.9 417.8,114.8 419.2,115.0 420.6,114.5 422.0,114.7 423.3,114.5 424.6,114.7 425.9,114.5 427.2,114.4 428.5,114.4 429.8,113.8 431.1,113.8 432.4,113.9 431.0,113.8 429.7,113.5 428.3,113.2 426.9,113.1 425.6,112.9 424.2,112.8 422.8,112.9 421.5,112.6 420.1,112.3 418.8,112.1 417.4,112.2 416.0,112.0 414.6,111.7 413.3,111.8 411.9,111.2 410.5,111.5 409.2,111.0 407.8,110.9 406.4,110.8 405.1,110.4 403.7,110.3 402.4,109.8 401.0,109.8 399.7,109.9 398.4,109.8 397.1,109.9 395.8,110.4 394.5,110.1 393.2,110.1 391.9,110.1 390.6,110.3 389.3,110.6 388.0,110.7 386.7,110.9 385.6,111.6 384.2,111.7 383.0,112.3 381.6,111.9 380.2,112.0 378.8,111.9 377.4,111.3 376.0,111.4 374.5,111.2 373.0,110.8 371.5,110.6 370.0,110.3 369.0,109.1 368.0,108.0 369.4,107.7 370.8,107.1 372.0,106.5 373.2,105.9 374.5,105.5 375.9,105.5 377.2,105.2 378.4,104.7 379.8,104.3 381.2,104.4 382.6,104.0 384.0,103.8 385.4,103.7 386.8,103.4 388.3,103.3 389.7,103.1 391.0,103.3 392.3,102.7 393.7,102.9 395.0,103.1 396.3,102.9 397.6,102.8 398.9,103.0 400.2,102.4 401.6,102.8 402.9,102.7 404.2,102.6 402.8,102.6 401.5,102.4 400.1,102.6 398.8,102.3 397.4,102.4 396.1,101.9 394.7,102.0 393.4,102.1 392.0,101.9 390.5,102.0 389.1,101.9 387.6,102.1 386.1,101.7 384.7,101.7 383.2,101.7 384.5,101.4 385.9,101.7 387.2,101.0 388.6,101.2 390.0,101.0 391.5,100.5 393.0,100.6 394.5,100.6 396.0,100.2 397.3,99.8 398.7,99.9 400.0,99.3 401.4,99.4 402.7,98.8 404.0,98.5 405.4,98.6 406.6,97.8 408.0,97.7 409.4,97.7 410.6,97.0 412.0,97.0 413.7,96.9 415.3,96.5 417.0,96.2 415.6,95.8 414.2,95.5 412.8,95.4 411.4,95.2 410.0,95.1 408.6,94.6 407.3,93.9 405.8,93.6 407.3,92.9 408.9,92.4 410.6,91.9 409.9,90.7 408.9,89.8 410.3,89.1 411.7,89.0 413.0,88.3 414.4,88.3 415.7,87.6 417.0,87.4 418.4,87.0 419.6,86.3 421.0,86.1 422.4,85.6 423.8,85.1 425.2,84.8 423.8,84.6 422.3,84.6 420.8,84.6 419.4,84.2 417.9,84.4 416.5,84.2 415.0,84.1 413.6,84.0 412.3,83.6 411.0,83.7 409.6,83.9 408.2,83.7 406.9,83.4 405.5,83.5 404.2,83.2 402.8,83.4 401.5,82.7 400.1,82.7 398.7,82.4 397.3,82.5 395.9,82.4 394.5,82.1 393.1,81.9 391.7,82.2 390.2,82.0 388.8,81.6 387.4,81.4 386.0,81.5 384.5,81.3 383.0,81.4 381.4,81.2 379.9,81.2 378.4,81.3 377.0,81.2 375.6,81.3 374.2,81.1 372.8,80.8 371.4,80.6 370.0,80.5 368.6,80.0 367.2,80.1 365.8,79.8 364.4,79.6 363.0,79.8 364.6,79.4 366.0,78.7 367.6,78.0 369.3,77.5 371.0,77.4 369.4,76.9 367.7,76.8 366.0,76.8 364.7,76.7 363.3,76.9 361.9,76.7 360.6,76.5" fill="none" stroke="#000080" stroke-width="2.20" stroke-linejoin="round" stroke-linecap="butt"/>
<polyline points="287.8,216.6 288.6,212.0 290.0,208.0 292.0,204.0 294.6,200.0 298.0,196.0 302.0,192.2 307.0,188.4 312.0,185.0 318.0,181.8 324.0,179.0 331.0,176.2 338.0,173.6 346.0,170.8 354.0,168.0 362.0,165.4 368.0,164.0 372.0,163.0 375.0,162.0 380.0,159.0 385.0,155.5 388.5,152.5 390.5,148.0 391.5,144.5 396.0,141.5 402.0,138.2 406.0,136.0 409.0,134.6 415.0,131.8 420.3,129.2 424.4,126.6 427.6,124.4 428.8,122.0 429.2,119.5 428.8,117.0 427.6,114.0 425.6,111.4 423.5,109.0 421.0,107.2 419.0,105.8 418.7,100.0 418.4,95.4 417.8,91.0 416.3,87.3 413.0,84.2 409.0,81.6 404.0,78.6 399.4,76.2" fill="none" stroke="#000000" stroke-width="1.60" stroke-linejoin="round" stroke-linecap="butt"/>
</g>
<path d="M277.60 216.60v3.5M294.44 216.60v3.5M311.28 216.60v3.5M328.12 216.60v3.5M344.97 216.60v3.5M361.81 216.60v3.5M378.65 216.60v3.5M395.49 216.60v3.5M412.33 216.60v3.5M429.18 216.60v3.5M446.02 216.60v3.5M462.86 216.60v3.5M479.70 216.60v3.5M277.60 200.99h-3.5M277.60 169.77h-3.5M277.60 138.54h-3.5M277.60 107.32h-3.5M277.60 76.10h-3.5" stroke="#111" stroke-width="0.95" fill="none"/>
<path d="M280.97 216.60v2M284.34 216.60v2M287.71 216.60v2M291.07 216.60v2M297.81 216.60v2M301.18 216.60v2M304.55 216.60v2M307.92 216.60v2M314.65 216.60v2M318.02 216.60v2M321.39 216.60v2M324.76 216.60v2M331.49 216.60v2M334.86 216.60v2M338.23 216.60v2M341.60 216.60v2M348.34 216.60v2M351.70 216.60v2M355.07 216.60v2M358.44 216.60v2M365.18 216.60v2M368.55 216.60v2M371.91 216.60v2M375.28 216.60v2M382.02 216.60v2M385.39 216.60v2M388.75 216.60v2M392.12 216.60v2M398.86 216.60v2M402.23 216.60v2M405.60 216.60v2M408.97 216.60v2M415.70 216.60v2M419.07 216.60v2M422.44 216.60v2M425.81 216.60v2M432.54 216.60v2M435.91 216.60v2M439.28 216.60v2M442.65 216.60v2M449.38 216.60v2M452.75 216.60v2M456.12 216.60v2M459.49 216.60v2M466.23 216.60v2M469.60 216.60v2M472.96 216.60v2M476.33 216.60v2M277.60 213.48h-2M277.60 207.23h-2M277.60 194.74h-2M277.60 188.50h-2M277.60 182.26h-2M277.60 176.01h-2M277.60 163.52h-2M277.60 157.28h-2M277.60 151.03h-2M277.60 144.79h-2M277.60 132.30h-2M277.60 126.06h-2M277.60 119.81h-2M277.60 113.57h-2M277.60 101.08h-2M277.60 94.83h-2M277.60 88.59h-2M277.60 82.34h-2" stroke="#111" stroke-width="0.75" fill="none"/>
<rect x="277.60" y="76.10" width="202.10" height="140.50" fill="none" stroke="#111" stroke-width="1.05"/>
<text x="277.6" y="230.8" font-size="10.60" text-anchor="middle" font-family="Liberation Sans, sans-serif" fill="#000" textLength="14.4" lengthAdjust="spacingAndGlyphs" >0.0</text>
<text x="294.4" y="230.8" font-size="10.60" text-anchor="middle" font-family="Liberation Sans, sans-serif" fill="#000" textLength="14.4" lengthAdjust="spacingAndGlyphs" >0.1</text>
<text x="311.3" y="230.8" font-size="10.60" text-anchor="middle" font-family="Liberation Sans, sans-serif" fill="#000" textLength="14.4" lengthAdjust="spacingAndGlyphs" >0.2</text>
<text x="328.1" y="230.8" font-size="10.60" text-anchor="middle" font-family="Liberation Sans, sans-serif" fill="#000" textLength="14.4" lengthAdjust="spacingAndGlyphs" >0.3</text>
<text x="345.0" y="230.8" font-size="10.60" text-anchor="middle" font-family="Liberation Sans, sans-serif" fill="#000" textLength="14.4" lengthAdjust="spacingAndGlyphs" >0.4</text>
<text x="361.8" y="230.8" font-size="10.60" text-anchor="middle" font-family="Liberation Sans, sans-serif" fill="#000" textLength="14.4" lengthAdjust="spacingAndGlyphs" >0.5</text>
<text x="378.7" y="230.8" font-size="10.60" text-anchor="middle" font-family="Liberation Sans, sans-serif" fill="#000" textLength="14.4" lengthAdjust="spacingAndGlyphs" >0.6</text>
<text x="395.5" y="230.8" font-size="10.60" text-anchor="middle" font-family="Liberation Sans, sans-serif" fill="#000" textLength="14.4" lengthAdjust="spacingAndGlyphs" >0.7</text>
<text x="412.3" y="230.8" font-size="10.60" text-anchor="middle" font-family="Liberation Sans, sans-serif" fill="#000" textLength="14.4" lengthAdjust="spacingAndGlyphs" >0.8</text>
<text x="429.2" y="230.8" font-size="10.60" text-anchor="middle" font-family="Liberation Sans, sans-serif" fill="#000" textLength="14.4" lengthAdjust="spacingAndGlyphs" >0.9</text>
<text x="446.0" y="230.8" font-size="10.60" text-anchor="middle" font-family="Liberation Sans, sans-serif" fill="#000" textLength="14.4" lengthAdjust="spacingAndGlyphs" >1.0</text>
<text x="462.9" y="230.8" font-size="10.60" text-anchor="middle" font-family="Liberation Sans, sans-serif" fill="#000" textLength="14.4" lengthAdjust="spacingAndGlyphs" >1.1</text>
<text x="479.7" y="230.8" font-size="10.60" text-anchor="middle" font-family="Liberation Sans, sans-serif" fill="#000" textLength="14.4" lengthAdjust="spacingAndGlyphs" >1.2</text>
<text x="378.6" y="244.0" font-size="10.60" text-anchor="middle" font-family="Liberation Sans, sans-serif" fill="#000" textLength="116.2" lengthAdjust="spacingAndGlyphs" >Supersaturation over ice</text>
<text x="289.6" y="92.2" font-size="11.50" text-anchor="middle" font-family="Liberation Sans, sans-serif" fill="#000" textLength="15.4" lengthAdjust="spacingAndGlyphs" >(b)</text>
<path d="M54.70 258.70V399.10M77.22 258.70V399.10M99.74 258.70V399.10M122.27 258.70V399.10M144.79 258.70V399.10M167.31 258.70V399.10M189.83 258.70V399.10M212.36 258.70V399.10M234.88 258.70V399.10M257.40 258.70V399.10M54.70 383.50H257.40M54.70 352.30H257.40M54.70 321.10H257.40M54.70 289.90H257.40M54.70 258.70H257.40" stroke="#b0b0b0" stroke-width="0.8" fill="none"/>
<g clip-path="url(#cc)">
<polygon points="72.6,258.6 76.0,266.0 82.0,273.5 90.0,283.0 100.0,292.5 120.0,308.5 140.0,324.5 154.0,336.5 170.0,351.0 190.0,368.0 210.0,385.0 226.3,399.0 227.3,399.0 211.0,385.0 191.0,368.0 171.0,350.2 155.0,335.5 141.0,323.0 121.0,306.5 101.0,290.5 91.0,281.0 83.0,271.5 77.5,264.5 74.6,258.6" fill="#0000ff" fill-opacity="0.15" stroke="#0000ff" stroke-opacity="0.15" stroke-width="1"/>
<polyline points="77.2,258.6 77.8,259.9 78.7,261.0 79.5,262.3 80.7,263.3 81.4,264.8 82.6,266.0 83.4,267.5 84.3,268.8 83.1,270.7 82.6,271.6 83.4,272.7 84.4,273.6 85.3,274.8 86.5,275.7 86.9,277.1 87.7,278.2 88.5,279.4 89.3,280.4 90.5,281.0 91.5,281.8 92.4,282.8 93.8,283.5 95.1,284.5 96.4,285.5 97.6,286.5 99.0,287.3 100.4,288.2 101.5,289.1 102.7,289.9 104.0,290.6 105.3,291.4 106.4,292.2 107.6,293.2 108.9,294.0 109.9,295.0 111.2,295.8 112.4,296.7 113.5,297.6 114.7,298.5 115.9,299.2 117.0,300.2 118.1,301.2 119.3,301.9 120.4,302.9 121.4,303.9 122.7,304.6 123.7,305.7 124.9,306.5 126.0,307.5 127.3,308.2 128.4,309.1 129.6,310.1 130.9,310.8 132.0,311.9 133.2,312.8 134.2,313.6 135.2,314.5 136.2,315.4 137.3,316.2 138.3,317.0 139.4,317.6 140.4,318.6 141.5,319.4 142.5,320.4 143.9,320.9 144.9,321.8 145.8,322.8 146.9,323.6 147.7,324.7 148.7,325.6 149.6,326.6 150.6,327.5 151.5,328.5 152.3,329.6 153.4,330.5 154.3,331.6 155.5,332.4 156.4,333.5 157.5,334.9 158.6,336.2 159.6,337.5 160.9,338.4 161.8,339.8 163.0,340.8 164.2,341.9 165.3,343.0 166.5,344.0 167.5,345.3 168.6,346.5 169.8,347.6 170.9,348.7 172.1,349.4 173.1,350.2 174.0,351.2 176.0,352.6 177.1,353.4 178.3,354.0 179.4,355.0 180.6,355.7 181.8,356.3 182.8,357.2 184.1,357.8 185.1,358.8 186.4,359.5 187.6,360.4 188.6,361.4 189.7,362.3 190.8,363.2 192.0,364.0 192.9,365.0 193.9,365.8 195.1,366.5 196.1,367.3 196.9,368.5 198.0,369.2 199.1,370.0 200.1,371.0 200.9,372.1 202.0,372.9 203.0,374.0 203.9,375.1 205.0,376.0 206.0,377.0 206.9,378.0 207.9,378.8 209.0,379.6 210.0,380.4 211.1,381.2 212.0,382.1 213.0,383.0 214.0,383.8 215.0,384.6 216.0,385.4 217.2,386.1 218.1,387.1 219.2,388.1 220.5,388.6 221.6,389.5 222.5,390.5" fill="none" stroke="#FFA500" stroke-width="2.20" stroke-linejoin="round" stroke-linecap="butt"/>
<polyline points="174.6,353.0 176.0,353.6 177.2,354.6 178.6,355.3 180.0,355.9 181.2,356.7 182.5,357.2 183.5,358.2 184.8,358.6 186.0,359.5 187.2,360.3 188.6,360.9 189.8,361.8 191.0,362.5 192.2,363.7 193.6,364.5 194.9,365.5 196.1,366.5 196.9,367.6 198.1,368.2 199.1,369.1 200.0,370.0 201.0,370.9 202.0,371.7 202.9,372.7 204.0,373.4 204.8,374.4 205.5,375.5 206.5,376.4 207.8,377.5 208.7,378.9 210.0,380.0 210.9,381.0 211.9,381.8 213.0,382.5 214.0,383.4 215.1,384.2 215.9,385.3 217.0,386.1 218.0,387.0 219.3,387.9 220.6,388.9 221.6,390.1 223.1,390.9" fill="none" stroke="#FF0000" stroke-width="2.60" stroke-linejoin="round" stroke-linecap="butt"/>
<polyline points="133.6,312.4 135.6,312.6 136.8,313.4 138.0,314.2 140.0,315.2 140.9,316.2 141.8,317.1 142.4,318.2 143.5,319.5 144.8,320.6 146.0,321.8 146.9,322.9 148.1,323.7 149.1,324.7 150.0,325.8 150.9,326.9 152.0,327.8 153.1,328.7 153.9,329.9 155.3,330.8 156.4,332.0 157.5,333.3 159.6,333.9 159.8,335.2 160.3,336.6 161.0,337.8 162.1,338.8 163.1,339.9 163.9,341.3 164.9,342.5 166.1,343.5 167.0,344.6 167.9,345.7 169.0,346.6 170.1,347.5 170.9,348.7 172.0,349.6" fill="none" stroke="#0000FF" stroke-width="2.20" stroke-linejoin="round" stroke-linecap="butt"/>
<polyline points="139.5,317.6 140.5,318.6 141.7,319.5 143.0,320.3 144.3,321.3 145.7,322.2 147.0,323.3 148.0,324.2 149.0,325.0 150.0,325.9 151.0,326.7 152.1,327.5 152.9,328.7 154.0,329.4 155.1,330.3 155.9,331.5 157.0,332.4 158.0,333.4 159.1,334.4 160.1,335.4 161.1,336.5 161.9,337.7 163.1,338.5 163.9,339.7 165.1,340.5 165.9,341.7 167.1,342.4 168.0,343.4 169.1,344.2 170.1,345.1 171.0,346.1 172.0,347.0 173.0,347.9 174.0,348.8 175.3,349.7 176.4,350.8" fill="none" stroke="#008000" stroke-width="2.20" stroke-linejoin="round" stroke-linecap="butt"/>
<polyline points="73.0,258.6 73.5,260.2 74.5,261.6 75.2,263.1 75.9,264.6 75.2,267.0 76.0,268.8 77.9,270.5 80.0,271.7 81.1,272.7 82.2,273.8 83.0,274.9 83.9,276.1 85.1,276.9 86.1,277.9 86.9,279.1 88.1,279.9 89.1,280.7 90.0,281.8 91.1,282.4 92.0,283.4 93.4,284.1 94.6,285.2 96.0,286.1 97.3,286.8 98.7,287.6 100.0,288.6 101.1,289.5 102.5,290.1 103.7,291.0 104.8,291.9 106.0,292.8 107.3,293.6 108.4,294.6 109.7,295.4 110.7,296.5 112.0,297.2 113.2,298.0 114.4,298.8 115.5,299.7 116.6,300.6 117.6,301.8 118.9,302.5 120.0,303.4 121.0,304.4 122.2,305.3 123.4,306.1 124.6,306.9 125.8,307.8 126.9,308.7 128.0,309.6 129.2,310.5 130.5,311.3 131.7,312.3 132.8,313.3 133.8,314.2 134.9,314.9 135.9,315.7 136.9,316.6 137.9,317.4 139.1,318.1 140.0,319.2 141.2,319.9 142.3,320.6 143.2,321.7 144.3,322.5 145.5,323.2 146.6,324.0 147.4,325.1 148.3,326.1 149.3,327.0 150.3,327.9 151.0,329.1 152.0,330.0 152.9,331.1 154.0,332.0 155.1,332.9 155.9,334.1 157.0,335.4 158.1,336.7 159.2,337.9 160.4,338.9 161.4,340.2 162.4,341.4 163.5,342.6 164.7,343.6 166.0,344.6 167.0,345.8 168.3,346.8 169.4,347.9 170.6,349.0 171.7,349.7 172.6,350.7 173.6,351.6" fill="none" stroke="#000080" stroke-width="2.20" stroke-linejoin="round" stroke-linecap="butt"/>
<polyline points="73.6,258.6 76.0,263.0 80.0,269.0 84.0,274.6 90.0,282.0 95.0,287.4 100.0,292.0 110.0,300.0 120.0,308.0 130.0,316.0 140.0,324.0 150.0,333.0 160.0,341.8 170.0,351.0 180.0,359.6 190.0,368.0 200.0,376.6 210.0,385.0 220.0,393.6 226.4,399.0" fill="none" stroke="#000000" stroke-width="1.60" stroke-linejoin="round" stroke-linecap="butt"/>
</g>
<path d="M54.70 399.10v3.5M77.22 399.10v3.5M99.74 399.10v3.5M122.27 399.10v3.5M144.79 399.10v3.5M167.31 399.10v3.5M189.83 399.10v3.5M212.36 399.10v3.5M234.88 399.10v3.5M257.40 399.10v3.5M54.70 383.50h-3.5M54.70 352.30h-3.5M54.70 321.10h-3.5M54.70 289.90h-3.5M54.70 258.70h-3.5" stroke="#111" stroke-width="0.95" fill="none"/>
<path d="M59.20 399.10v2M63.71 399.10v2M68.21 399.10v2M72.72 399.10v2M81.73 399.10v2M86.23 399.10v2M90.74 399.10v2M95.24 399.10v2M104.25 399.10v2M108.75 399.10v2M113.26 399.10v2M117.76 399.10v2M126.77 399.10v2M131.28 399.10v2M135.78 399.10v2M140.28 399.10v2M149.29 399.10v2M153.80 399.10v2M158.30 399.10v2M162.81 399.10v2M171.82 399.10v2M176.32 399.10v2M180.82 399.10v2M185.33 399.10v2M194.34 399.10v2M198.84 399.10v2M203.35 399.10v2M207.85 399.10v2M216.86 399.10v2M221.36 399.10v2M225.87 399.10v2M230.37 399.10v2M239.38 399.10v2M243.89 399.10v2M248.39 399.10v2M252.90 399.10v2M54.70 395.98h-2M54.70 389.74h-2M54.70 377.26h-2M54.70 371.02h-2M54.70 364.78h-2M54.70 358.54h-2M54.70 346.06h-2M54.70 339.82h-2M54.70 333.58h-2M54.70 327.34h-2M54.70 314.86h-2M54.70 308.62h-2M54.70 302.38h-2M54.70 296.14h-2M54.70 283.66h-2M54.70 277.42h-2M54.70 271.18h-2M54.70 264.94h-2" stroke="#111" stroke-width="0.75" fill="none"/>
<rect x="54.70" y="258.70" width="202.70" height="140.40" fill="none" stroke="#111" stroke-width="1.05"/>
<text x="54.7" y="413.3" font-size="10.60" text-anchor="middle" font-family="Liberation Sans, sans-serif" fill="#000" textLength="17.4" lengthAdjust="spacingAndGlyphs" >205</text>
<text x="77.2" y="413.3" font-size="10.60" text-anchor="middle" font-family="Liberation Sans, sans-serif" fill="#000" textLength="17.4" lengthAdjust="spacingAndGlyphs" >210</text>
<text x="99.7" y="413.3" font-size="10.60" text-anchor="middle" font-family="Liberation Sans, sans-serif" fill="#000" textLength="17.4" lengthAdjust="spacingAndGlyphs" >215</text>
<text x="122.3" y="413.3" font-size="10.60" text-anchor="middle" font-family="Liberation Sans, sans-serif" fill="#000" textLength="17.4" lengthAdjust="spacingAndGlyphs" >220</text>
<text x="144.8" y="413.3" font-size="10.60" text-anchor="middle" font-family="Liberation Sans, sans-serif" fill="#000" textLength="17.4" lengthAdjust="spacingAndGlyphs" >225</text>
<text x="167.3" y="413.3" font-size="10.60" text-anchor="middle" font-family="Liberation Sans, sans-serif" fill="#000" textLength="17.4" lengthAdjust="spacingAndGlyphs" >230</text>
<text x="189.8" y="413.3" font-size="10.60" text-anchor="middle" font-family="Liberation Sans, sans-serif" fill="#000" textLength="17.4" lengthAdjust="spacingAndGlyphs" >235</text>
<text x="212.4" y="413.3" font-size="10.60" text-anchor="middle" font-family="Liberation Sans, sans-serif" fill="#000" textLength="17.4" lengthAdjust="spacingAndGlyphs" >240</text>
<text x="234.9" y="413.3" font-size="10.60" text-anchor="middle" font-family="Liberation Sans, sans-serif" fill="#000" textLength="17.4" lengthAdjust="spacingAndGlyphs" >245</text>
<text x="257.4" y="413.3" font-size="10.60" text-anchor="middle" font-family="Liberation Sans, sans-serif" fill="#000" textLength="17.4" lengthAdjust="spacingAndGlyphs" >250</text>
<text x="47.4" y="387.3" font-size="10.60" text-anchor="end" font-family="Liberation Sans, sans-serif" fill="#000" textLength="23.2" lengthAdjust="spacingAndGlyphs" >9000</text>
<text x="47.4" y="356.1" font-size="10.60" text-anchor="end" font-family="Liberation Sans, sans-serif" fill="#000" textLength="29.0" lengthAdjust="spacingAndGlyphs" >10000</text>
<text x="47.4" y="324.9" font-size="10.60" text-anchor="end" font-family="Liberation Sans, sans-serif" fill="#000" textLength="29.0" lengthAdjust="spacingAndGlyphs" >11000</text>
<text x="47.4" y="293.7" font-size="10.60" text-anchor="end" font-family="Liberation Sans, sans-serif" fill="#000" textLength="29.0" lengthAdjust="spacingAndGlyphs" >12000</text>
<text x="47.4" y="262.5" font-size="10.60" text-anchor="end" font-family="Liberation Sans, sans-serif" fill="#000" textLength="29.0" lengthAdjust="spacingAndGlyphs" >13000</text>
<text transform="translate(12.6,328.9) rotate(-90)" font-size="10.6" text-anchor="middle" font-family="Liberation Sans, sans-serif" textLength="57" lengthAdjust="spacingAndGlyphs">Altitude (m)</text>
<text x="156.0" y="426.5" font-size="10.60" text-anchor="middle" font-family="Liberation Sans, sans-serif" fill="#000" textLength="76.4" lengthAdjust="spacingAndGlyphs" >Temperature (K)</text>
<text x="66.8" y="274.8" font-size="11.50" text-anchor="middle" font-family="Liberation Sans, sans-serif" fill="#000" textLength="14.4" lengthAdjust="spacingAndGlyphs" >(c)</text>
<path d="M277.60 258.70V399.10M318.02 258.70V399.10M358.44 258.70V399.10M398.86 258.70V399.10M439.28 258.70V399.10M479.70 258.70V399.10M277.60 383.50H479.70M277.60 352.30H479.70M277.60 321.10H479.70M277.60 289.90H479.70M277.60 258.70H479.70" stroke="#b0b0b0" stroke-width="0.8" fill="none"/>
<g clip-path="url(#cd)">
<polygon points="331.0,399.0 332.0,392.0 333.0,384.0 334.4,378.0 336.0,374.0 340.0,370.0 344.0,366.0 350.0,362.0 356.0,358.0 363.0,353.0 370.0,348.0 372.0,344.0 372.0,340.0 370.0,335.0 367.6,328.0 366.0,320.0 364.6,312.0 363.6,302.0 363.6,296.0 364.0,290.0 366.6,284.0 370.0,280.0 375.0,275.0 380.0,270.0 386.0,266.0 392.0,262.4 398.0,258.6 424.0,258.6 420.0,262.0 414.0,267.0 410.0,270.0 406.6,275.0 405.0,280.0 405.4,285.0 406.0,290.0 406.4,298.0 406.0,306.0 403.0,312.0 400.0,316.0 398.6,321.0 398.0,326.0 399.0,331.0 400.0,336.0 397.6,340.0 394.0,344.0 389.0,348.4 384.0,352.0 378.0,356.0 372.0,360.0 367.6,364.0 364.0,368.0 362.0,374.0 360.0,380.0 358.8,386.0 358.0,390.0 356.0,395.0 354.0,399.0" fill="#0000ff" fill-opacity="0.15" stroke="#0000ff" stroke-opacity="0.15" stroke-width="1"/>
<polyline points="317.0,391.0 315.5,390.6 314.0,390.3 312.0,390.0 313.3,389.7 314.6,389.2 316.0,389.0 315.0,388.4 313.6,388.2 312.3,387.5 311.0,387.0 312.2,386.4 313.6,386.1 314.9,385.8 316.0,385.0 317.1,384.1 318.4,383.5 320.0,382.0 319.6,380.0 319.0,378.0 317.6,376.0 316.5,374.0 315.4,372.0 314.0,370.0 313.5,368.0 312.4,366.0 311.2,364.0 311.7,362.4 311.1,360.9 311.8,359.8 313.0,359.0 315.0,357.6 316.9,355.9 317.7,354.0 318.7,352.1 320.1,350.0 321.5,349.3 323.1,348.5 324.7,348.0 326.4,347.6 328.0,347.0 329.4,347.0 330.8,346.8 332.2,346.3 333.6,346.0 335.0,346.0 336.4,345.9 337.8,345.5 339.2,345.6 340.6,345.4 342.0,345.1 343.5,344.8 345.0,344.6 346.5,344.1 348.0,344.1 349.3,343.4 350.7,343.6 352.0,343.0 353.2,342.5 354.4,342.0 355.8,341.9 357.0,341.4 358.7,341.0 360.3,340.2 362.0,340.1 363.3,339.4 364.7,338.9 366.0,338.5 367.5,337.8 369.0,337.0 366.6,336.1 365.0,335.0 363.3,334.2 362.0,333.1 363.1,332.2 363.9,331.1 365.9,329.5 368.1,328.1 369.5,327.2 371.0,326.6 372.3,326.2 373.5,325.9 374.7,325.3 376.0,325.1 377.2,324.2 378.7,324.1 380.0,323.3 381.5,322.8 383.0,321.9 383.8,320.9 384.4,319.6 384.8,318.3 384.9,317.0 385.7,315.8 386.1,314.4 385.9,312.0 385.4,310.7 384.7,309.5 384.1,308.3 383.9,307.0 383.7,305.6 383.1,304.4 382.3,302.4 384.1,301.1 385.6,300.4 387.0,299.3 388.4,298.7 389.6,297.7 391.0,297.1 390.0,296.0 389.0,295.0 387.9,293.1 387.6,291.4 387.1,290.0 385.9,289.1 384.9,288.1 383.3,286.1 381.9,284.0 383.1,282.1 381.0,280.3 379.6,279.3 378.0,278.5 377.9,277.0 376.5,276.6 375.0,275.9 373.6,275.3 372.0,274.9 370.0,273.9 371.3,273.6 372.6,273.1 375.0,272.1 373.3,271.7 371.6,271.6 370.0,271.1 368.3,271.0 366.6,270.5 365.0,270.0 366.6,269.5 368.3,269.2 370.0,268.9 371.5,268.7 373.0,268.5 374.5,268.3 376.0,268.1 377.6,267.4 379.3,267.2 381.0,266.9 382.7,266.9 384.3,266.4 386.0,266.0 387.7,265.7 389.3,264.8 391.0,264.7 392.6,264.0 394.4,263.7 396.0,263.2 397.4,262.9 398.6,262.3 400.0,261.9 401.5,261.6 403.0,261.5 404.5,261.1 406.0,260.7 407.5,260.4 409.0,260.2 410.5,259.8 412.0,259.6 413.6,259.3 415.0,258.6" fill="none" stroke="#FFA500" stroke-width="2.20" stroke-linejoin="round" stroke-linecap="butt"/>
<polyline points="316.0,391.0 316.7,390.0 316.9,389.0 318.5,387.1 320.1,385.1 321.5,384.2 322.9,383.3 324.4,382.5 326.0,382.1 327.9,381.5 329.6,380.7 331.3,379.8 333.0,379.0 331.4,378.5 330.0,377.6 328.6,376.7 327.0,376.5 325.5,375.6 324.0,374.9 323.1,373.9 322.0,373.0 320.9,372.1 320.0,371.0 318.7,368.9 317.1,366.9 317.6,365.0 318.1,363.0 319.1,362.1 320.5,361.1 322.0,360.5 323.5,359.6 325.0,358.9 326.9,357.9 326.0,357.0 327.5,356.6 329.0,355.9 327.6,356.1 326.3,355.7 325.0,355.5 326.5,355.0 328.0,354.3 326.7,354.2 325.3,354.1 324.0,354.0 325.7,353.9 327.3,353.4 329.0,353.2 327.6,353.1 326.2,353.2 324.8,353.3 323.4,352.8 322.0,352.9 323.3,352.9 324.7,352.8 326.0,352.8 327.3,352.5 328.6,352.2 330.0,352.4 328.5,352.1 327.0,352.5 325.5,351.9 324.0,352.2 322.5,351.8 321.0,351.9" fill="none" stroke="#FF0000" stroke-width="2.20" stroke-linejoin="round" stroke-linecap="butt"/>
<polyline points="337.0,352.0 335.4,351.1 334.9,350.0 335.7,348.4 336.1,347.0 337.4,346.9 338.7,346.5 340.0,346.2 341.4,346.1 342.7,345.9 344.0,345.5 345.3,345.0 346.7,345.1 348.0,345.0 349.3,344.5 350.6,343.9 352.0,343.9 350.6,343.6 349.1,343.4 347.6,342.9 346.1,342.6 344.6,342.2 343.0,342.1 344.4,341.8 345.8,341.7 347.2,341.6 348.6,341.4 350.0,340.9 351.3,340.8 352.7,341.0 354.0,340.3 355.3,340.1 356.6,340.0 358.0,340.1 359.5,339.6 361.0,339.6 362.5,339.4 364.0,339.1 365.5,338.5 367.0,338.6 368.5,338.4 370.0,338.1 371.3,337.8 372.6,337.4 373.8,336.9 375.0,336.5 376.7,336.0 378.3,335.2 380.0,334.9 378.1,333.5 376.0,332.0 378.0,330.4 380.1,329.1 378.9,328.1 377.6,327.3 376.3,326.7 375.0,326.0 376.4,325.3 378.0,324.9 380.0,323.9 378.5,323.5 377.0,323.0 378.3,322.4 379.7,322.4 381.0,321.9 379.5,321.6 378.0,321.1 379.3,320.7 380.6,320.1 382.0,320.1 380.6,319.7 379.4,319.1 378.0,319.0 380.0,318.0 381.6,317.2 383.0,315.9 385.0,314.6 387.0,313.6 385.5,313.1 384.0,313.1" fill="none" stroke="#0000FF" stroke-width="2.20" stroke-linejoin="round" stroke-linecap="butt"/>
<polyline points="330.0,352.0 330.9,350.5 333.0,349.0 331.1,347.5 329.1,345.9 330.6,345.5 332.3,344.9 334.0,344.5 335.5,344.3 337.0,343.6 338.6,343.6 340.0,342.9 341.5,342.6 343.0,342.1 344.5,341.4 346.0,341.0 347.5,340.7 349.0,340.1 350.5,339.8 352.0,339.4 353.6,339.3 355.0,338.6 356.5,338.2 358.0,338.0 360.0,337.0 362.0,336.0 360.9,335.0 359.6,334.5 358.3,333.7 357.0,333.0 358.4,332.3 360.0,332.0 361.5,331.7 363.0,331.4 364.5,331.4 366.0,331.1 364.7,330.4 363.3,330.5 362.0,330.0 364.1,329.1 365.3,328.4 366.6,328.1 368.0,327.9 367.2,326.8 366.0,326.0 364.6,324.0 363.2,324.0 361.8,323.3 360.5,323.0 359.0,322.9 360.5,322.9 362.0,322.4 363.5,321.9 365.0,321.5 363.7,321.1 362.4,320.5 361.2,319.7 359.9,319.1 361.5,318.5 363.0,318.7 364.5,318.5 366.0,318.1 367.5,317.7 369.0,317.5 370.5,317.3 372.0,317.1 370.5,316.9 369.0,316.5 367.5,316.2 366.0,315.9 364.6,315.8 363.3,315.6 362.0,315.0 363.5,315.0 365.0,314.4 366.5,314.5 368.0,314.1 369.7,313.9 371.3,313.9 373.0,313.5 371.5,313.5 370.0,313.3 368.5,313.4 367.0,313.0 365.5,312.9 364.0,313.1" fill="none" stroke="#008000" stroke-width="2.20" stroke-linejoin="round" stroke-linecap="butt"/>
<polyline points="346.0,350.8 347.5,350.9 349.0,350.7 350.4,350.5 351.8,350.3 353.2,350.0 353.5,348.0 353.1,346.4 350.8,345.3 352.4,344.5 354.0,343.7 355.6,343.0 357.3,342.8 358.8,341.9 360.1,341.7 361.4,341.4 362.7,341.2 364.0,340.7 365.5,340.6 367.0,340.0 368.5,339.9 370.0,339.6 371.4,339.5 372.8,339.3 374.2,339.2 375.6,338.5 377.0,338.5 378.5,338.1 380.0,337.9 381.4,337.4 383.0,337.7 384.4,337.1 385.9,336.8 387.4,336.6 388.9,336.3 390.5,336.1 392.0,335.9 393.5,335.7 395.0,335.3 396.5,335.3 398.0,334.9 397.3,333.1 395.0,332.4 393.3,331.5 391.6,330.7 393.0,329.4 392.4,327.6 393.9,326.3 395.6,325.9 397.0,325.3 398.5,324.5 400.0,324.0 401.3,323.4 402.7,323.5 404.0,323.1 405.4,322.9 406.6,322.1 408.0,322.1 409.1,321.1 409.9,319.9 411.5,319.1 412.9,317.9 411.9,316.0 410.9,314.1 411.9,313.0 413.1,312.4 414.0,311.4 415.6,310.3 417.1,309.1 415.7,308.2 414.7,306.9 413.4,305.8 412.0,305.0 410.8,304.6 409.5,304.1 408.4,303.4 406.7,302.8 405.0,302.1 406.4,301.1 407.6,300.0 408.7,298.9 409.9,297.9 411.5,297.0 413.0,296.1 414.6,295.1 416.0,294.0 415.2,292.8 414.1,291.9 413.0,291.0 412.1,289.9 411.1,288.9 410.0,288.0 408.9,287.1 408.0,286.0 407.1,284.9 406.1,283.9 405.3,282.0 405.0,280.0 406.2,279.3 407.5,279.1 408.7,278.5 410.0,278.1 411.3,277.7 412.4,276.8 413.9,276.8 415.0,275.9 416.1,274.5 417.1,273.1 415.6,272.7 414.4,272.1 412.0,271.1 413.4,270.6 414.7,269.8 416.1,269.1 417.4,268.5 418.6,267.6 420.0,267.1 421.4,266.7 422.8,266.5 424.2,266.4 425.6,266.3 427.0,265.9 428.4,265.8 429.8,265.6 431.2,265.6 432.6,265.2 434.0,265.0 435.0,264.0 436.0,263.0 435.0,262.0 433.9,261.1 432.6,260.9 431.3,260.6 430.0,260.0 428.9,259.1 427.6,258.6" fill="none" stroke="#000080" stroke-width="2.20" stroke-linejoin="round" stroke-linecap="butt"/>
<polyline points="342.2,399.0 343.6,395.0 345.6,390.0 346.4,385.0 347.0,380.0 348.0,376.0 350.0,372.0 353.6,367.6 358.0,363.0 364.0,358.4 370.0,354.0 376.0,349.0 381.0,345.0 383.0,341.6 383.6,338.0 384.0,334.0 382.6,329.0 381.0,324.0 381.0,320.0 382.0,314.0 383.0,308.0 383.6,302.0 384.0,296.0 384.4,290.0 385.6,286.0 387.0,282.0 390.0,278.0 394.0,274.0 398.6,269.4 404.0,265.0 408.0,262.0 412.4,258.6" fill="none" stroke="#000000" stroke-width="1.60" stroke-linejoin="round" stroke-linecap="butt"/>
</g>
<path d="M277.60 399.10v3.5M318.02 399.10v3.5M358.44 399.10v3.5M398.86 399.10v3.5M439.28 399.10v3.5M479.70 399.10v3.5M277.60 383.50h-3.5M277.60 352.30h-3.5M277.60 321.10h-3.5M277.60 289.90h-3.5M277.60 258.70h-3.5" stroke="#111" stroke-width="0.95" fill="none"/>
<path d="M285.68 399.10v2M293.77 399.10v2M301.85 399.10v2M309.94 399.10v2M326.10 399.10v2M334.19 399.10v2M342.27 399.10v2M350.36 399.10v2M366.52 399.10v2M374.61 399.10v2M382.69 399.10v2M390.78 399.10v2M406.94 399.10v2M415.03 399.10v2M423.11 399.10v2M431.20 399.10v2M447.36 399.10v2M455.45 399.10v2M463.53 399.10v2M471.62 399.10v2M277.60 395.98h-2M277.60 389.74h-2M277.60 377.26h-2M277.60 371.02h-2M277.60 364.78h-2M277.60 358.54h-2M277.60 346.06h-2M277.60 339.82h-2M277.60 333.58h-2M277.60 327.34h-2M277.60 314.86h-2M277.60 308.62h-2M277.60 302.38h-2M277.60 296.14h-2M277.60 283.66h-2M277.60 277.42h-2M277.60 271.18h-2M277.60 264.94h-2" stroke="#111" stroke-width="0.75" fill="none"/>
<rect x="277.60" y="258.70" width="202.10" height="140.40" fill="none" stroke="#111" stroke-width="1.05"/>
<text x="277.6" y="413.3" font-size="10.60" text-anchor="middle" font-family="Liberation Sans, sans-serif" fill="#000" textLength="11.6" lengthAdjust="spacingAndGlyphs" >15</text>
<text x="318.0" y="413.3" font-size="10.60" text-anchor="middle" font-family="Liberation Sans, sans-serif" fill="#000" textLength="11.6" lengthAdjust="spacingAndGlyphs" >20</text>
<text x="358.4" y="413.3" font-size="10.60" text-anchor="middle" font-family="Liberation Sans, sans-serif" fill="#000" textLength="11.6" lengthAdjust="spacingAndGlyphs" >25</text>
<text x="398.9" y="413.3" font-size="10.60" text-anchor="middle" font-family="Liberation Sans, sans-serif" fill="#000" textLength="11.6" lengthAdjust="spacingAndGlyphs" >30</text>
<text x="439.3" y="413.3" font-size="10.60" text-anchor="middle" font-family="Liberation Sans, sans-serif" fill="#000" textLength="11.6" lengthAdjust="spacingAndGlyphs" >35</text>
<text x="479.7" y="413.3" font-size="10.60" text-anchor="middle" font-family="Liberation Sans, sans-serif" fill="#000" textLength="11.6" lengthAdjust="spacingAndGlyphs" >40</text>
<text x="378.6" y="426.5" font-size="10.60" text-anchor="middle" font-family="Liberation Sans, sans-serif" fill="#000" textLength="100.8" lengthAdjust="spacingAndGlyphs" >Horizontal wind (m/s)</text>
<text x="289.6" y="274.8" font-size="11.50" text-anchor="middle" font-family="Liberation Sans, sans-serif" fill="#000" textLength="15.4" lengthAdjust="spacingAndGlyphs" >(d)</text>
</svg>
</body></html>
